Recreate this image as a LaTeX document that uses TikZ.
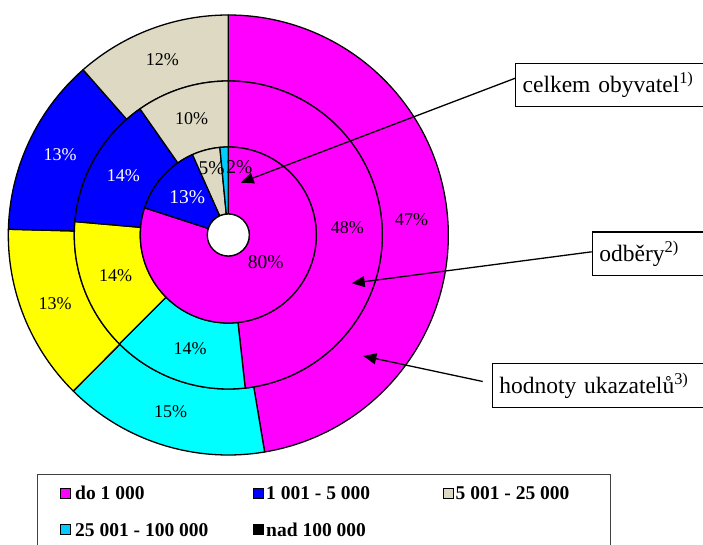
\documentclass[tikz,border=0pt]{standalone}
\usepackage{fontspec}
\setmainfont{Liberation Serif}
\usetikzlibrary{arrows.meta,calc}
\definecolor{mag}{HTML}{FF00FF}
\definecolor{blu}{HTML}{0000FF}
\definecolor{bei}{HTML}{DDD9C3}
\definecolor{cya}{HTML}{00FFFF}
\definecolor{yel}{HTML}{FFFF00}
\definecolor{cyb}{HTML}{00CCFF}
\newcommand{\ringslice}[5]{%
  \filldraw[slice, fill=#1] ($(C)+(#4:#2)$) arc[start angle=#4, end angle=#5, radius=#2]
    -- ($(C)+(#5:#3)$) arc[start angle=#5, end angle=#4, radius=#3] -- cycle;}
\begin{document}
\begin{tikzpicture}[x=1pt,y=1pt,
  slice/.style={draw=black, line width=1.3pt, line join=round},
  pct/.style={font=\fontsize{18}{20}\selectfont, text=black, inner sep=0pt},
  pctb/.style={font=\fontsize{19.5}{21}\selectfont, text=black, inner sep=0pt},
  callout/.style={draw=black, line width=1.3pt, fill=white, anchor=west, minimum height=43.4pt,
     text width=240pt, align=left, inner xsep=7pt, font=\fontsize{23.5}{25}\selectfont},
  pointer/.style={draw=black, line width=1.3pt, -{Triangle[length=13pt,width=11pt]}},
  mk/.style={draw=black, line width=0.9pt, minimum size=10pt, inner sep=0pt},
  lg/.style={anchor=west, inner sep=0pt, font=\fontsize{19.5}{21}\selectfont\bfseries}]
\useasboundingbox (0,0) rectangle (703,544);
\clip (0,0) rectangle (703,544);
\fill[white] (0,0) rectangle (703,544);
\coordinate (C) at (228.3,309);
% outer ring
\ringslice{mag}{154}{220}{90}{-80.5}
\ringslice{cya}{154}{220}{-80.5}{-134.8}
\ringslice{yel}{154}{220}{-134.8}{-181.5}
\ringslice{blu}{154}{220}{178.5}{131.3}
\ringslice{bei}{154}{220}{131.3}{90}
% middle ring
\ringslice{mag}{88}{154}{90}{-83.7}
\ringslice{cya}{88}{154}{-83.7}{-135}
\ringslice{yel}{88}{154}{-135}{-185}
\ringslice{blu}{88}{154}{175}{125}
\ringslice{bei}{88}{154}{125}{90}
% inner ring
\ringslice{mag}{21}{88}{90}{-198}
\ringslice{blu}{21}{88}{162}{114}
\ringslice{bei}{21}{88}{114}{95.5}
\ringslice{cyb}{21}{88}{95.5}{90}
\filldraw[slice, fill=white] (C) circle[radius=21];
% labels
\node[pct] (l12) at (162.3,484) {12\%};
\node[pct] (l10) at (191.7,425) {10\%};
\node[pct, text=white] (l13o) at (60,389) {13\%};
\node[pct, text=white] (l14m) at (123.3,368.3) {14\%};
\node[pctb, text=white] (l13i) at (187.3,347.3) {13\%};
\node[pctb] (l5) at (211.7,375.7) {5\%};
\node[pctb] (l2) at (239.3,377.3) {2\%};
\node[pctb] (l80) at (265.7,282.3) {80\%};
\node[pct] (l48) at (347.3,316.7) {48\%};
\node[pct] (l47) at (411.7,324.7) {47\%};
\node[pct] (l14y) at (115.7,268) {14\%};
\node[pct] (l13y) at (55,240) {13\%};
\node[pct] (l14c) at (190,195.3) {14\%};
\node[pct] (l15) at (170.7,132) {15\%};
% callouts
\node[callout] (celkem) at (515,459) {celkem obyvatel\textsuperscript{1)}};
\node[callout] (odbery) at (591.7,290.2) {odběry\textsuperscript{2)}};
\node[callout] (hodnoty) at (491.7,158.5) {hodnoty ukazatelů\textsuperscript{3)}};
\coordinate (t1) at (240.7,361.3);
\coordinate (t2) at (351.7,260.7);
\coordinate (t3) at (363.3,188);
\draw[pointer] ([yshift=6.7pt]celkem.west) -- (t1);
\draw[pointer] ([yshift=2pt]odbery.west) -- (t2);
\draw[pointer] ([xshift=-9pt,yshift=4pt]hodnoty.west) -- (t3);
% legend
\draw[draw=black!75, line width=1pt] (37.4,70) rectangle (610,-10);
\node[mk, fill=mag] (m1) at (65.3,50.7) {};
\node[lg] (g1) at (75,50.7) {do 1 000};
\node[mk, fill=blu] (m2) at (258,50.7) {};
\node[lg] (g2) at (266,50.7) {1 001 - 5 000};
\node[mk, fill=bei] (m3) at (448,50.7) {};
\node[lg] (g3) at (455.5,50.7) {5 001 - 25 000};
\node[mk, fill=cyb] (m4) at (65.3,14.3) {};
\node[lg] (g4) at (75,14.3) {25 001 - 100 000};
\node[mk, fill=black] (m5) at (258,14.3) {};
\node[lg] (g5) at (266,14.3) {nad 100 000};
\end{tikzpicture}
\end{document}
